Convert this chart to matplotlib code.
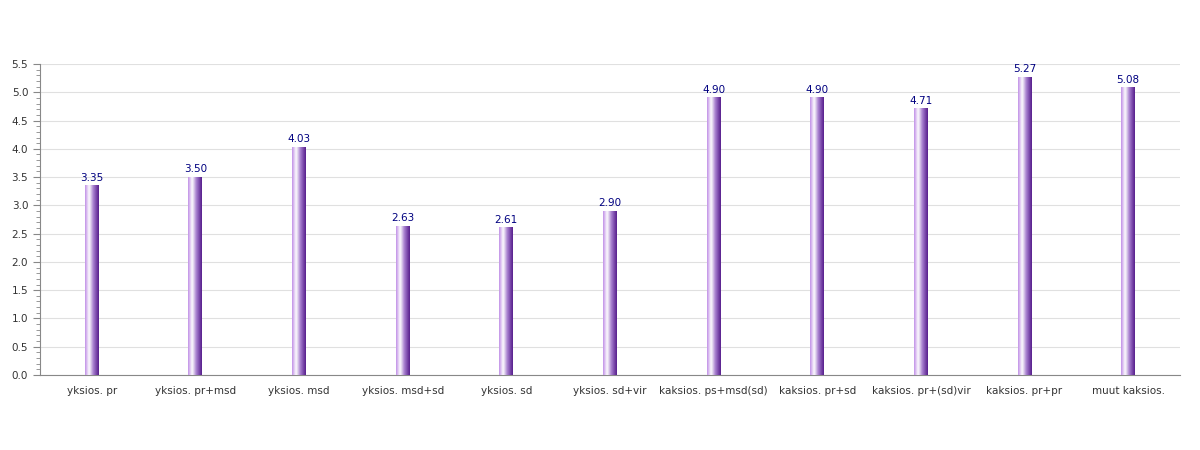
import matplotlib
matplotlib.use("Agg")
import matplotlib.pyplot as plt
import numpy as np
from matplotlib.colors import LinearSegmentedColormap
from matplotlib.ticker import MultipleLocator

categories = [
    "yksios. pr", "yksios. pr+msd", "yksios. msd", "yksios. msd+sd",
    "yksios. sd", "yksios. sd+vir", "kaksios. ps+msd(sd)", "kaksios. pr+sd",
    "kaksios. pr+(sd)vir", "kaksios. pr+pr", "muut kaksios.",
]
values = [3.35, 3.50, 4.03, 2.63, 2.61, 2.90, 4.90, 4.90, 4.71, 5.27, 5.08]

bar_cmap = LinearSegmentedColormap.from_list(
    "bar", [(0.0, "#c08fe6"), (0.3, "#ffffff"), (0.6, "#a77fcf"), (1.0, "#561d8c")]
)

fig = plt.figure(figsize=(12, 4.5), dpi=100)
ax = fig.add_axes([40 / 1200, 1 - 375 / 450, 1140 / 1200, 311 / 450])

x = np.arange(len(categories))
width = 0.135
grad = np.linspace(0, 1, 64).reshape(1, -1)
for xi, v in zip(x, values):
    ax.imshow(grad, cmap=bar_cmap, aspect="auto", interpolation="bicubic",
              extent=(xi - width / 2, xi + width / 2, 0, v), zorder=3)
    ax.text(xi, v + 0.05, f"{v:.2f}", ha="center", va="bottom",
            fontsize=7.5, color="#000080", zorder=4)

ax.set_xlim(-0.5, len(categories) - 0.5)
ax.set_ylim(0, 5.5)
ax.set_xticks(x)
ax.set_xticklabels(categories, fontsize=7.5, color="#333333")
ax.tick_params(axis="x", length=0, pad=8)
ax.yaxis.set_major_locator(MultipleLocator(0.5))
ax.yaxis.set_minor_locator(MultipleLocator(0.1))
ax.yaxis.set_major_formatter(matplotlib.ticker.FormatStrFormatter("%.1f"))
ax.tick_params(axis="y", which="major", labelsize=7.5, labelcolor="#333333",
               color="#888888", length=5)
ax.tick_params(axis="y", which="minor", color="#888888", length=3)
ax.grid(axis="y", color="#e0e0e0", linewidth=0.8, zorder=0)
ax.set_axisbelow(True)
for s in ("top", "right"):
    ax.spines[s].set_visible(False)
ax.spines["left"].set_color("#888888")
ax.spines["bottom"].set_color("#888888")

fig.savefig("out.png", dpi=100)
